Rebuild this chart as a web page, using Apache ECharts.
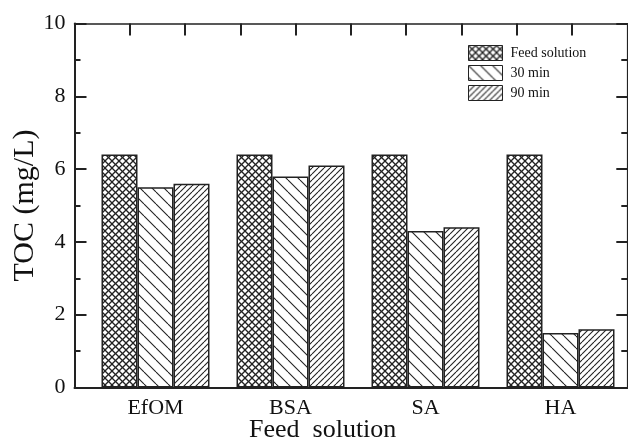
<!DOCTYPE html>
<html>
<head>
<meta charset="utf-8">
<script src="https://cdn.jsdelivr.net/npm/echarts@6/dist/echarts.min.js"></script>
<style>html,body{margin:0;padding:0;background:#fff;}#c{width:628px;height:445px;}</style>
</head>
<body>
<div id="c"></div>
<script>
var categories = ['EfOM', 'BSA', 'SA', 'HA'];
var seriesNames = ['Feed solution', '30 min', '90 min'];
var feedValues = [6.4, 6.4, 6.4, 6.4];
var min30Values = [5.5, 5.8, 4.3, 1.5];
var min90Values = [5.6, 6.1, 4.4, 1.6];
var yTicks = [0, 2, 4, 6, 8, 10];

var FONT = '"Liberation Serif", "DejaVu Serif", serif';
var INK = '#222';

function makeTile(size, drawFn) {
  var c = document.createElement('canvas');
  c.width = size; c.height = size;
  var ctx = c.getContext('2d');
  ctx.fillStyle = '#fff';
  ctx.fillRect(0, 0, size, size);
  ctx.strokeStyle = INK;
  ctx.lineWidth = 1.1;
  drawFn(ctx, size);
  return c;
}
function back(ctx, p) { // "\"
  for (var o = -p; o <= p; o += p) {
    ctx.beginPath(); ctx.moveTo(o, 0); ctx.lineTo(o + p, p); ctx.stroke();
  }
}
function fwd(ctx, p) { // "/"
  for (var o = -p; o <= p; o += p) {
    ctx.beginPath(); ctx.moveTo(o, p); ctx.lineTo(o + p, 0); ctx.stroke();
  }
}
var crossTile = makeTile(7, function (ctx, p) { ctx.lineWidth = 1.3; back(ctx, p); fwd(ctx, p); });
var backTile = makeTile(12, back);
var fwdTile = makeTile(6, fwd);
var patterns = [
  { image: crossTile, repeat: 'repeat' },
  { image: backTile, repeat: 'repeat' },
  { image: fwdTile, repeat: 'repeat' }
];
var dataSets = [feedValues, min30Values, min90Values];

var chart = echarts.init(document.getElementById('c'), null, { renderer: 'canvas' });

var series = seriesNames.map(function (name, i) {
  return {
    name: name,
    type: 'bar',
    xAxisIndex: 2,
    yAxisIndex: 2,
    barWidth: 36,
    barGap: '0%',
    data: dataSets[i],
    itemStyle: { color: patterns[i], borderColor: INK, borderWidth: 1.5 },
    emphasis: { disabled: true },
    z: 3
  };
});

chart.setOption({
  animation: false,
  backgroundColor: '#fff',
  grid: [
    { left: 74.5, right: 0.7, top: 23.5, bottom: 57.5, show: false, containLabel: false, outerBoundsMode: 'none' },
    { left: 88, right: 0, top: 23.5, bottom: 57.5, show: false, containLabel: false, outerBoundsMode: 'none' }
  ],
  legend: {
    data: seriesNames,
    orient: 'vertical',
    left: 468,
    top: 45,
    padding: 0,
    itemWidth: 34,
    itemHeight: 15,
    itemGap: 4,
    icon: 'rect',
    selectedMode: false,
    itemStyle: { borderColor: INK, borderWidth: 1 },
    textStyle: { fontFamily: FONT, fontSize: 14, color: '#111', padding: [0, 0, 0, 3] }
  },
  xAxis: [
    {
      gridIndex: 0, type: 'value', position: 'bottom', min: 0, max: 10,
      axisLine: { show: true, onZero: false, lineStyle: { color: INK, width: 2 } },
      axisTick: { show: false }, axisLabel: { show: false }, splitLine: { show: false }
    },
    {
      gridIndex: 0, type: 'value', position: 'top', min: 0, max: 10, interval: 1,
      axisLine: { show: true, onZero: false, lineStyle: { color: INK, width: 1.5 } },
      axisTick: { show: true, inside: true, length: 12, lineStyle: { color: INK, width: 2 } },
      axisLabel: { show: false }, splitLine: { show: false }
    },
    {
      gridIndex: 1, type: 'category', data: categories,
      axisLine: { show: false, onZero: false }, axisTick: { show: false },
      axisLabel: { fontFamily: FONT, fontSize: 22, color: '#111', margin: 10 },
      splitLine: { show: false }
    }
  ],
  yAxis: [
    {
      gridIndex: 0, type: 'value', position: 'left', min: 0, max: 10, interval: 2,
      name: 'TOC (mg/L)', nameLocation: 'middle', nameGap: 34, nameRotate: 90,
      nameMoveOverlap: false,
      nameTextStyle: { fontFamily: FONT, fontSize: 30, color: '#111' },
      axisLine: { show: true, onZero: false, lineStyle: { color: INK, width: 2 } },
      axisTick: { show: true, inside: true, length: 12, lineStyle: { color: INK, width: 2 } },
      minorTick: { show: true, splitNumber: 2, length: 6, lineStyle: { color: INK, width: 2 } },
      axisLabel: {
        fontFamily: FONT, fontSize: 22, color: '#111', margin: 9,
        formatter: function (v) { return yTicks.indexOf(v) >= 0 ? String(v) : ''; }
      },
      splitLine: { show: false }
    },
    {
      gridIndex: 0, type: 'value', position: 'right', min: 0, max: 10, interval: 2,
      axisLine: { show: true, onZero: false, lineStyle: { color: INK, width: 1.2 } },
      axisTick: { show: true, inside: true, length: 11, lineStyle: { color: INK, width: 2 } },
      minorTick: { show: true, splitNumber: 2, length: 6, lineStyle: { color: INK, width: 2 } },
      axisLabel: { show: false }, splitLine: { show: false }
    },
    {
      gridIndex: 1, type: 'value', min: 0, max: 10, show: false
    }
  ],
  graphic: [
    {
      type: 'text', left: 249, top: 417, z: 10,
      style: { text: 'Feed  solution', fontFamily: FONT, fontSize: 26, fill: '#111' }
    }
  ],
  series: series
});
</script>
</body>
</html>
